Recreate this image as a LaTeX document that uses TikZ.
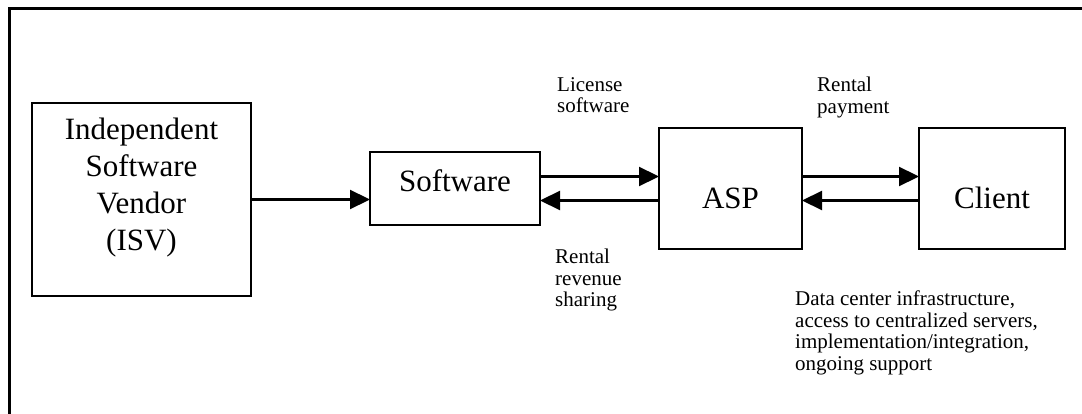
\documentclass[tikz,border=0pt]{standalone}
\usepackage{fontspec}
\setmainfont{Liberation Serif}
\usetikzlibrary{arrows.meta,positioning}

\begin{document}
\begin{tikzpicture}[x=1pt,y=-1pt,
  node distance=119pt,
  box/.style={draw,line width=2.4pt,outer sep=0pt,align=center,inner sep=0pt,font=\fontsize{31}{37}\selectfont},
  lbl/.style={align=left,inner sep=0pt,anchor=north west,font=\fontsize{21}{21.5}\selectfont},
  flow/.style={line width=2.2pt,-{Triangle[length=20pt,width=19pt]}}]
  \useasboundingbox (0,0) rectangle (1082,414);
  \draw[line width=3pt] (1082,9) -- (9,9) -- (9,414);
  \node[box,minimum width=219pt,minimum height=193pt] (isv) at (141.5,199.5) {Independent\\Software\\Vendor\\(ISV)\\[-6pt]};
  \node[box,minimum width=170pt,minimum height=73pt,text height=20pt,text depth=13pt,right=of isv,yshift=11pt] (sw) {Software};
  \node[box,minimum width=143pt,minimum height=121pt,text height=41pt,text depth=0pt,right=of sw] (asp) {ASP};
  \node[box,minimum width=146pt,minimum height=121pt,text height=40pt,text depth=0pt,right=117pt of asp] (client) {Client};
  \draw[flow] (isv.east) -- (isv.east -| sw.west);
  \draw[flow] ([yshift=12pt]sw.east) -- ([yshift=12pt]sw.east -| asp.west);
  \draw[flow] ([yshift=-12pt]asp.west) -- ([yshift=-12pt]asp.west -| sw.east);
  \draw[flow] ([yshift=12pt]asp.east) -- ([yshift=12pt]asp.east -| client.west);
  \draw[flow] ([yshift=-12pt]client.west) -- ([yshift=-12pt]client.west -| asp.east);
  \node[lbl] (lic) at (557,77) {License\\software};
  \node[lbl] (pay) at (817,77) {Rental\\payment};
  \node[lbl] (share) at (555,249) {Rental\\revenue\\sharing};
  \node[lbl] (serv) at (795,291) {Data center infrastructure,\\access to centralized servers,\\implementation/integration,\\ongoing support};
\end{tikzpicture}
\end{document}
